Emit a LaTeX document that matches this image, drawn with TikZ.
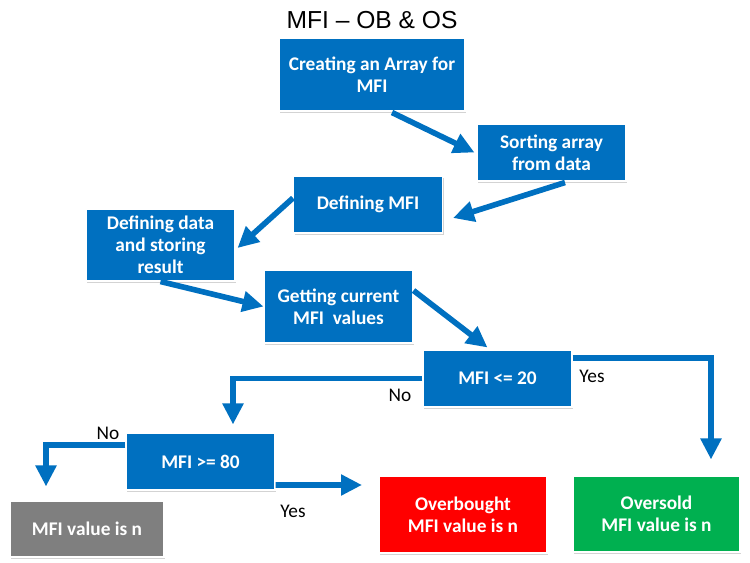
\documentclass[tikz,border=0pt]{standalone}
\usepackage{fontspec}
\setmainfont{Carlito}
\newfontfamily\titlefont{Liberation Sans}
\usetikzlibrary{arrows.meta, positioning, shadows}
\definecolor{cblue}{HTML}{0070C0}
\definecolor{cred}{HTML}{FF0000}
\definecolor{cgreen}{HTML}{00B050}
\definecolor{cgrey}{HTML}{7F7F7F}
\tikzset{
  box/.style={fill=#1, draw=white, line width=0.6pt, text=white, align=center,
    font=\bfseries\fontsize{11}{12.5}\selectfont, minimum width=2.98cm, minimum height=1.14cm,
    drop shadow={opacity=0.35, shadow xshift=0.7pt, shadow yshift=-0.9pt}},
  box/.default=cblue,
  arrow/.style={-{Triangle[length=0.42cm, width=0.4cm]}, draw=cblue, line width=3.2pt},
  answer/.style={font=\fontsize{11}{12}\selectfont},
}

\begin{document}
\begin{tikzpicture}[x=0.02cm, y=-0.02cm]
  \useasboundingbox (0,0) rectangle (750,563);
  % title
  \node[font=\titlefont\fontsize{14}{16}\selectfont] (title) at (372,20) {MFI – OB \& OS};
  % steps
  \node[box, minimum width=3.72cm, minimum height=1.46cm] (create) at (372,74.5) {Creating an Array for\\MFI};
  \node[box] (sort) at (551.5,152.5) {Sorting array\\from data};
  \node[box] (defmfi) at (368,204.5) {Defining MFI};
  \node[box, minimum height=1.44cm] (store) at (160.5,245) {Defining data\\and storing\\result};
  \node[box, minimum height=1.46cm] (current) at (338.5,306.5) {Getting current\\MFI~~values};
  % decisions
  \node[box] (le20) at (497.5,378.5) {MFI <= 20};
  \node[box] (ge80) at (200.5,461.5) {MFI >= 80};
  % results
  \node[box=cgrey, minimum width=3.08cm, minimum height=1.12cm] (neutral) at (87,529) {MFI value is n};
  \node[box=cred, minimum width=3.36cm, minimum height=1.54cm] (overbought) at (463,514.5) {Overbought\\MFI value is n};
  \node[box=cgreen, minimum width=3.34cm, minimum height=1.52cm] (oversold) at (656.5,514) {Oversold\\MFI value is n};
  \coordinate (obtip) at (362,485);
  % flow
  \draw[arrow] ([xshift=0.4cm, yshift=-0.02cm]create.south) -- ([xshift=-0.04cm]sort.west);
  \draw[arrow] ([xshift=0.27cm, yshift=-0.02cm]sort.south) -- ([xshift=0.2cm, yshift=-0.27cm]defmfi.east);
  \draw[arrow] ([yshift=0.13cm]defmfi.west) -- ([xshift=0.04cm, yshift=-0.06cm]store.east);
  \draw[arrow] (store.south) -- (current.west);
  \draw[arrow] ([yshift=0.32cm]current.east) -- ([xshift=-0.2cm, yshift=0.04cm]le20.north);
  \draw[arrow] (le20.west) -| ([xshift=0.65cm, yshift=0.16cm]ge80.north);
  \draw[arrow] ([yshift=0.41cm]le20.east) -| ([xshift=1.09cm, yshift=0.32cm]oversold.north);
  \draw[arrow] ([yshift=0.33cm]ge80.west) -| ([xshift=-0.82cm, yshift=0.28cm]neutral.north);
  \draw[arrow] ([yshift=-0.47cm]ge80.east) -- (obtip);
  % answers
  \node[answer] (no1) at (400,395) {No};
  \node[answer] (yes1) at (592,376) {Yes};
  \node[answer] (no2) at (108,433) {No};
  \node[answer] (yes2) at (293,511) {Yes};
\end{tikzpicture}
\end{document}
